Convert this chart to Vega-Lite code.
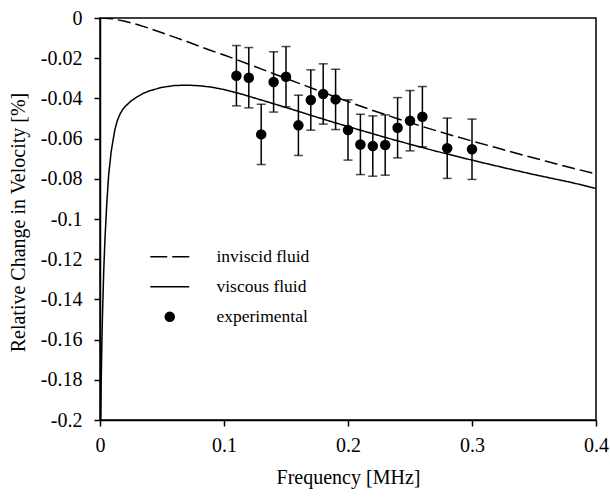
{
  "$schema": "https://vega.github.io/schema/vega-lite/v6.json",
  "width": 496,
  "height": 402,
  "autosize": {"type": "none"},
  "padding": {"left": 100, "top": 18, "right": 14, "bottom": 78},
  "background": "white",
  "config": {
    "view": {"stroke": "black", "strokeWidth": 1.5},
    "font": "Times New Roman, Liberation Serif, DejaVu Serif, serif",
    "axis": {
      "domainColor": "black", "domainWidth": 1.5,
      "tickColor": "black", "tickWidth": 1.5, "tickSize": 6,
      "labelColor": "black", "titleColor": "black",
      "labelFont": "Times New Roman, Liberation Serif, DejaVu Serif, serif",
      "titleFont": "Times New Roman, Liberation Serif, DejaVu Serif, serif",
      "labelFontSize": 20, "titleFontSize": 20, "titleFontWeight": "normal",
      "grid": false, "labelOverlap": false
    }
  },
  "datasets": {
    "curves": [
      {"series": "inviscid fluid", "f": 0, "v": 0},
      {"series": "inviscid fluid", "f": 0.01, "v": -0.0004},
      {"series": "inviscid fluid", "f": 0.02, "v": -0.0016},
      {"series": "inviscid fluid", "f": 0.03, "v": -0.0032},
      {"series": "inviscid fluid", "f": 0.04, "v": -0.0052},
      {"series": "inviscid fluid", "f": 0.05, "v": -0.0073},
      {"series": "inviscid fluid", "f": 0.06, "v": -0.0095},
      {"series": "inviscid fluid", "f": 0.07, "v": -0.0117},
      {"series": "inviscid fluid", "f": 0.08, "v": -0.0140},
      {"series": "inviscid fluid", "f": 0.09, "v": -0.0163},
      {"series": "inviscid fluid", "f": 0.10, "v": -0.0184},
      {"series": "inviscid fluid", "f": 0.12, "v": -0.0230},
      {"series": "inviscid fluid", "f": 0.14, "v": -0.0277},
      {"series": "inviscid fluid", "f": 0.16, "v": -0.0324},
      {"series": "inviscid fluid", "f": 0.18, "v": -0.0370},
      {"series": "inviscid fluid", "f": 0.20, "v": -0.0416},
      {"series": "inviscid fluid", "f": 0.22, "v": -0.0460},
      {"series": "inviscid fluid", "f": 0.24, "v": -0.0501},
      {"series": "inviscid fluid", "f": 0.26, "v": -0.0540},
      {"series": "inviscid fluid", "f": 0.28, "v": -0.0577},
      {"series": "inviscid fluid", "f": 0.30, "v": -0.0612},
      {"series": "inviscid fluid", "f": 0.32, "v": -0.0646},
      {"series": "inviscid fluid", "f": 0.34, "v": -0.0680},
      {"series": "inviscid fluid", "f": 0.36, "v": -0.0713},
      {"series": "inviscid fluid", "f": 0.38, "v": -0.0745},
      {"series": "inviscid fluid", "f": 0.40, "v": -0.0776},
      {"series": "viscous fluid", "f": 0.0006, "v": -0.2},
      {"series": "viscous fluid", "f": 0.001, "v": -0.180},
      {"series": "viscous fluid", "f": 0.0015, "v": -0.162},
      {"series": "viscous fluid", "f": 0.002, "v": -0.148},
      {"series": "viscous fluid", "f": 0.003, "v": -0.126},
      {"series": "viscous fluid", "f": 0.004, "v": -0.110},
      {"series": "viscous fluid", "f": 0.0055, "v": -0.092},
      {"series": "viscous fluid", "f": 0.007, "v": -0.078},
      {"series": "viscous fluid", "f": 0.009, "v": -0.0665},
      {"series": "viscous fluid", "f": 0.012, "v": -0.0555},
      {"series": "viscous fluid", "f": 0.014, "v": -0.0510},
      {"series": "viscous fluid", "f": 0.016, "v": -0.0480},
      {"series": "viscous fluid", "f": 0.018, "v": -0.0458},
      {"series": "viscous fluid", "f": 0.02, "v": -0.0442},
      {"series": "viscous fluid", "f": 0.025, "v": -0.0413},
      {"series": "viscous fluid", "f": 0.03, "v": -0.0392},
      {"series": "viscous fluid", "f": 0.035, "v": -0.0375},
      {"series": "viscous fluid", "f": 0.04, "v": -0.0362},
      {"series": "viscous fluid", "f": 0.05, "v": -0.0345},
      {"series": "viscous fluid", "f": 0.06, "v": -0.0336},
      {"series": "viscous fluid", "f": 0.07, "v": -0.0334},
      {"series": "viscous fluid", "f": 0.08, "v": -0.0337},
      {"series": "viscous fluid", "f": 0.09, "v": -0.0344},
      {"series": "viscous fluid", "f": 0.10, "v": -0.0356},
      {"series": "viscous fluid", "f": 0.115, "v": -0.0380},
      {"series": "viscous fluid", "f": 0.13, "v": -0.0408},
      {"series": "viscous fluid", "f": 0.15, "v": -0.0445},
      {"series": "viscous fluid", "f": 0.17, "v": -0.0484},
      {"series": "viscous fluid", "f": 0.19, "v": -0.0522},
      {"series": "viscous fluid", "f": 0.21, "v": -0.0558},
      {"series": "viscous fluid", "f": 0.23, "v": -0.0594},
      {"series": "viscous fluid", "f": 0.25, "v": -0.0628},
      {"series": "viscous fluid", "f": 0.27, "v": -0.0661},
      {"series": "viscous fluid", "f": 0.29, "v": -0.0692},
      {"series": "viscous fluid", "f": 0.31, "v": -0.0722},
      {"series": "viscous fluid", "f": 0.33, "v": -0.0751},
      {"series": "viscous fluid", "f": 0.35, "v": -0.0779},
      {"series": "viscous fluid", "f": 0.37, "v": -0.0805},
      {"series": "viscous fluid", "f": 0.38, "v": -0.0818},
      {"series": "viscous fluid", "f": 0.40, "v": -0.0848}
    ],
    "exp": [
      {"series": "experimental", "f": 0.11, "v": -0.0287, "lo": -0.0437, "hi": -0.0137},
      {"series": "experimental", "f": 0.12, "v": -0.0297, "lo": -0.0447, "hi": -0.0147},
      {"series": "experimental", "f": 0.13, "v": -0.0579, "lo": -0.0729, "hi": -0.0429},
      {"series": "experimental", "f": 0.14, "v": -0.0318, "lo": -0.0468, "hi": -0.0168},
      {"series": "experimental", "f": 0.15, "v": -0.0292, "lo": -0.0442, "hi": -0.0142},
      {"series": "experimental", "f": 0.16, "v": -0.0534, "lo": -0.0684, "hi": -0.0384},
      {"series": "experimental", "f": 0.17, "v": -0.0408, "lo": -0.0558, "hi": -0.0258},
      {"series": "experimental", "f": 0.18, "v": -0.0378, "lo": -0.0528, "hi": -0.0228},
      {"series": "experimental", "f": 0.19, "v": -0.0405, "lo": -0.0555, "hi": -0.0255},
      {"series": "experimental", "f": 0.20, "v": -0.0557, "lo": -0.0707, "hi": -0.0407},
      {"series": "experimental", "f": 0.21, "v": -0.0629, "lo": -0.0779, "hi": -0.0479},
      {"series": "experimental", "f": 0.22, "v": -0.0637, "lo": -0.0787, "hi": -0.0487},
      {"series": "experimental", "f": 0.23, "v": -0.0632, "lo": -0.0782, "hi": -0.0482},
      {"series": "experimental", "f": 0.24, "v": -0.0546, "lo": -0.0696, "hi": -0.0396},
      {"series": "experimental", "f": 0.25, "v": -0.0511, "lo": -0.0661, "hi": -0.0361},
      {"series": "experimental", "f": 0.26, "v": -0.0491, "lo": -0.0641, "hi": -0.0341},
      {"series": "experimental", "f": 0.28, "v": -0.0648, "lo": -0.0798, "hi": -0.0498},
      {"series": "experimental", "f": 0.30, "v": -0.0653, "lo": -0.0803, "hi": -0.0503}
    ]
  },
  "layer": [
    {
      "data": {"name": "curves"},
      "mark": {"type": "line", "strokeWidth": 1.5, "clip": true},
      "encoding": {
        "x": {
          "field": "f", "type": "quantitative",
          "scale": {"domain": [0, 0.4], "nice": false, "zero": false},
          "axis": {
            "values": [0, 0.1, 0.2, 0.3, 0.4], "format": ".1~f",
            "labelPadding": 9, "labelFlush": false,
            "title": "Frequency [MHz]", "titlePadding": 12
          }
        },
        "y": {
          "field": "v", "type": "quantitative",
          "scale": {"domain": [-0.2, 0], "nice": false, "zero": false},
          "axis": {
            "values": [0, -0.02, -0.04, -0.06, -0.08, -0.1, -0.12, -0.14, -0.16, -0.18, -0.2],
            "format": ".2~f",
            "labelExpr": "replace(datum.label, '−', '-')",
            "labelPadding": 12, "labelFlush": false,
            "title": "Relative Change in Velocity [%]",
            "titleX": -82, "titleY": 204, "titleAngle": -90,
            "titleAlign": "center", "titleBaseline": "middle"
          }
        },
        "color": {
          "field": "series", "type": "nominal",
          "scale": {"domain": ["inviscid fluid", "viscous fluid", "experimental"], "range": ["black", "black", "black"]},
          "legend": {
            "title": null, "orient": "none", "legendX": 61, "legendY": 230,
            "labelFont": "Times New Roman, Liberation Serif, DejaVu Serif, serif",
            "labelFontSize": 17.5, "labelColor": "black",
            "symbolSize": 1521, "labelOffset": 38, "rowPadding": 11,
            "encode": {
              "symbols": {
                "update": {
                  "shape": {"signal": "datum.value === 'experimental' ? 'circle' : 'stroke'"},
                  "size": {"signal": "datum.value === 'experimental' ? 110 : 1521"},
                  "strokeDash": {"signal": "datum.value === 'inviscid fluid' ? [17, 5] : [1, 0]"},
                  "fill": {"signal": "datum.value === 'experimental' ? 'black' : 'transparent'"},
                  "stroke": {"value": "black"},
                  "strokeWidth": {"signal": "datum.value === 'experimental' ? 0 : 1.5"},
                  "opacity": {"value": 1}
                }
              }
            }
          }
        },
        "strokeDash": {
          "field": "series", "type": "nominal",
          "scale": {"domain": ["inviscid fluid", "viscous fluid"], "range": [[13, 5], [1, 0]]},
          "legend": null
        }
      }
    },
    {
      "data": {"name": "exp"},
      "mark": {"type": "rule", "strokeWidth": 1.5, "color": "black"},
      "encoding": {
        "x": {"field": "f", "type": "quantitative"},
        "y": {"field": "lo", "type": "quantitative"},
        "y2": {"field": "hi"}
      }
    },
    {
      "data": {"name": "exp"},
      "mark": {"type": "tick", "orient": "horizontal", "size": 9, "thickness": 1.5, "color": "black"},
      "encoding": {
        "x": {"field": "f", "type": "quantitative"},
        "y": {"field": "lo", "type": "quantitative"}
      }
    },
    {
      "data": {"name": "exp"},
      "mark": {"type": "tick", "orient": "horizontal", "size": 9, "thickness": 1.5, "color": "black"},
      "encoding": {
        "x": {"field": "f", "type": "quantitative"},
        "y": {"field": "hi", "type": "quantitative"}
      }
    },
    {
      "data": {"name": "exp"},
      "mark": {"type": "point", "filled": true, "shape": "circle", "size": 110, "opacity": 1},
      "encoding": {
        "x": {"field": "f", "type": "quantitative"},
        "y": {"field": "v", "type": "quantitative"},
        "color": {"field": "series", "type": "nominal"}
      }
    }
  ]
}
